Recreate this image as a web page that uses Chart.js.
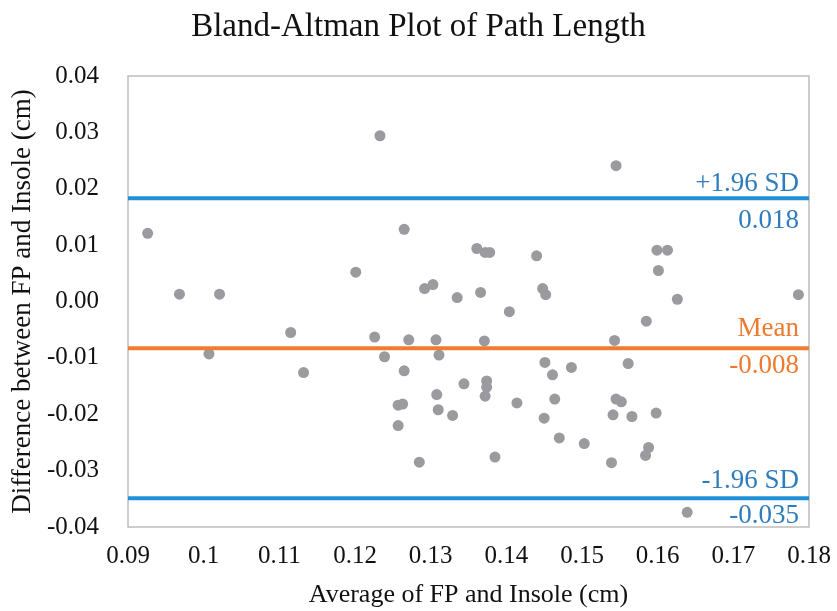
<!DOCTYPE html>
<html>
<head>
<meta charset="utf-8">
<script src="https://cdn.jsdelivr.net/npm/chart.js@4.4.1/dist/chart.umd.min.js"></script>
<style>
  body { margin: 0; background: #fff; }
</style>
</head>
<body>
<canvas id="baChart" width="837" height="611"></canvas>
<script>
//******************************   DATA   ******************************
// average of the two methods (x) and their difference (y)
const avgValues = [
  0.0926, 0.0968, 0.1021, 0.1007, 0.1115, 0.1132, 0.1201, 0.1233, 0.1265, 0.1361,
  0.1372, 0.1378, 0.1440, 0.1292, 0.1303, 0.1335, 0.1366, 0.1448, 0.1452, 0.1404,
  0.1226, 0.1239, 0.1271, 0.1265, 0.1307, 0.1311, 0.1371, 0.1451, 0.1461, 0.1486,
  0.1344, 0.1374, 0.1374, 0.1372, 0.1308, 0.1257, 0.1263, 0.1310, 0.1329, 0.1414,
  0.1464, 0.1450, 0.1257, 0.1470, 0.1503, 0.1285, 0.1385, 0.1626, 0.1786, 0.1585,
  0.1543, 0.1561, 0.1545, 0.1552, 0.1541, 0.1566, 0.1598, 0.1539, 0.1588, 0.1584,
  0.1639, 0.1545, 0.1599, 0.1613, 0.1601
];
const diffValues = [
  0.0121, 0.0013, 0.0013, -0.0093, -0.0055, -0.0126, 0.0052, 0.0294, 0.0128, 0.0094,
  0.0087, 0.0087, 0.0081, 0.0023, 0.0030, 0.0007, 0.0016, 0.0023, 0.0012, -0.0018,
  -0.0063, -0.0098, -0.0068, -0.0123, -0.0068, -0.0095, -0.0070, -0.0108, -0.0130, -0.0117,
  -0.0146, -0.0141, -0.0152, -0.0168, -0.0165, -0.0184, -0.0182, -0.0192, -0.0202, -0.0180,
  -0.0173, -0.0207, -0.0220, -0.0242, -0.0252, -0.0285, -0.0276, 0.0004, 0.0012, -0.0035,
  -0.0069, -0.0110, -0.0173, -0.0178, -0.0201, -0.0204, -0.0198, -0.0286, -0.0259, -0.0273,
  -0.0374, 0.0241, 0.0091, 0.0091, 0.0055
];

// limits of agreement and mean difference
const lineNames  = ['+1.96 SD', 'Mean', '-1.96 SD'];
const lineValues = [0.0183, -0.0083, -0.0349];
const lineLabels = ['0.018', '-0.008', '-0.035'];

const xMin = 0.09, xMax = 0.18, xStep = 0.01;
const yMin = -0.04, yMax = 0.04, yStep = 0.01;

//******************************   STYLE   ******************************
const serif = '"Liberation Serif", "Times New Roman", serif';
const lineColors = ['#2191d6', '#ef7d31', '#2191d6'];
const textColors = ['#2f7cbd', '#ec7a30', '#2f7cbd'];
// baseline offsets of the name (above) and value (below) for each line
const labelOffsets = [[7, 30], [12, 25], [10, 25]];

//******************************   CHART   ******************************
const datasets = [{
  type: 'scatter',
  label: 'Difference',
  data: avgValues.map((x, i) => ({x: x, y: diffValues[i]})),
  backgroundColor: '#9b9b9f',
  borderWidth: 0,
  pointRadius: 5.5,
  order: 1
}];
lineValues.forEach((v, i) => {
  datasets.push({
    type: 'line',
    label: lineNames[i],
    data: [{x: xMin, y: v}, {x: xMax, y: v}],
    borderColor: lineColors[i],
    borderWidth: 4,
    pointRadius: 0,
    fill: false,
    order: 0
  });
});

// frame round the plot area and the text next to each horizontal line
const plotDecor = {
  id: 'plotDecor',
  beforeDatasetsDraw(chart) {
    const {ctx, chartArea: a} = chart;
    ctx.save();
    ctx.strokeStyle = '#bdbdbd';
    ctx.lineWidth = 1.5;
    ctx.strokeRect(a.left, a.top, a.right - a.left, a.bottom - a.top);
    ctx.restore();
  },
  afterDatasetsDraw(chart) {
    const {ctx, chartArea: a, scales} = chart;
    ctx.save();
    ctx.font = '27px ' + serif;
    ctx.textAlign = 'right';
    ctx.textBaseline = 'alphabetic';
    lineValues.forEach((v, i) => {
      const y = scales.y.getPixelForValue(v);
      ctx.fillStyle = textColors[i];
      ctx.fillText(lineNames[i], a.right - 10, y - labelOffsets[i][0]);
      ctx.fillText(lineLabels[i], a.right - 10, y + labelOffsets[i][1]);
    });
    ctx.restore();
  }
};

new Chart(document.getElementById('baChart').getContext('2d'), {
  data: {datasets: datasets},
  plugins: [plotDecor],
  options: {
    responsive: false,
    animation: false,
    layout: {padding: 0},
    plugins: {
      legend: {display: false},
      tooltip: {enabled: false},
      title: {
        display: true,
        text: 'Bland-Altman Plot of Path Length',
        color: '#111',
        font: {family: serif, size: 33, weight: 'normal'},
        padding: {top: 8, bottom: 28.4}
      }
    },
    scales: {
      x: {
        type: 'linear',
        min: xMin,
        max: xMax,
        grid: {display: false},
        border: {display: false},
        ticks: {
          stepSize: xStep,
          color: '#111',
          padding: 6,
          maxRotation: 0,
          font: {family: serif, size: 25},
          callback: v => String(parseFloat(v.toFixed(2)))
        },
        title: {
          display: true,
          text: 'Average of FP and Insole (cm)',
          color: '#111',
          font: {family: serif, size: 26},
          padding: {top: 0, bottom: 0}
        },
        afterFit(scale) { scale.height = 84; }
      },
      y: {
        type: 'linear',
        min: yMin,
        max: yMax,
        grid: {display: false},
        border: {display: false},
        ticks: {
          stepSize: yStep,
          color: '#111',
          padding: 21,
          font: {family: serif, size: 25},
          callback: v => v.toFixed(2)
        },
        title: {
          display: true,
          text: 'Difference between FP and Insole (cm)',
          color: '#111',
          font: {family: serif, size: 27},
          padding: {top: 7, bottom: 0}
        },
        afterFit(scale) { scale.width = 128; }
      },
      yRight: {
        type: 'linear',
        position: 'right',
        display: true,
        grid: {display: false},
        border: {display: false},
        ticks: {display: false},
        afterFit(scale) { scale.width = 28; }
      }
    }
  }
});
</script>
</body>
</html>
